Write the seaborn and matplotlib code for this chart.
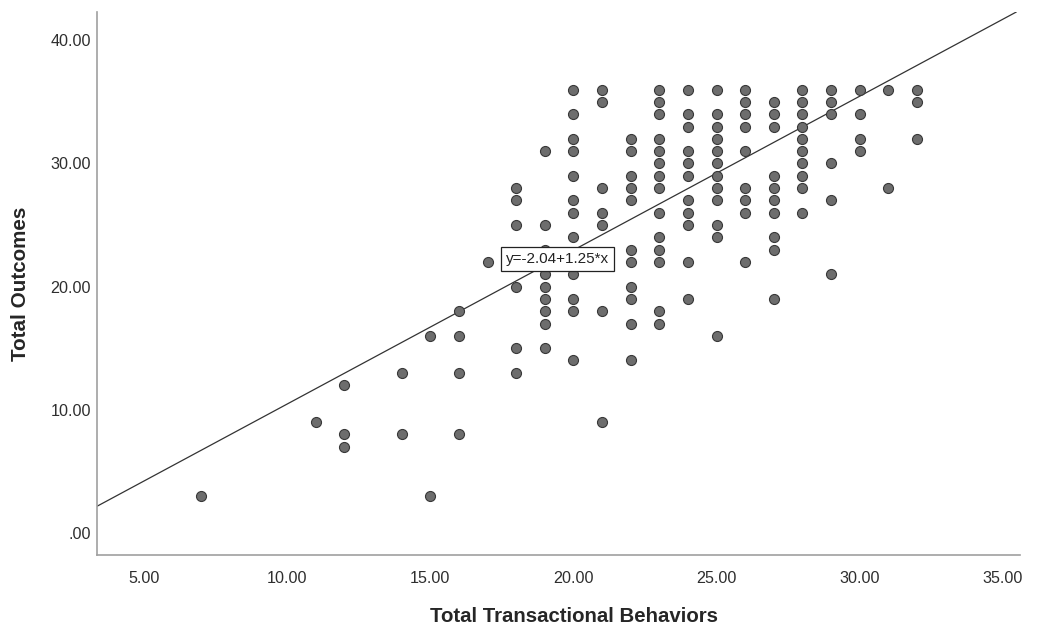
import matplotlib
matplotlib.use("Agg")
import matplotlib.pyplot as plt
from matplotlib.ticker import FuncFormatter, MultipleLocator
import pandas as pd
import seaborn as sns

# Total Transactional Behaviors (x) and Total Outcomes (y)
behaviors = [
    7,
    11,
    12, 12, 12,
    14, 14,
    15, 15,
    16, 16, 16, 16,
    17,
    18, 18, 18, 18, 18, 18,
    19, 19, 19, 19, 19, 19, 19, 19, 19,
    20, 20, 20, 20, 20, 20, 20, 20, 20, 20, 20, 20,
    21, 21, 21, 21, 21, 21, 21,
    22, 22, 22, 22, 22, 22, 22, 22, 22, 22, 22,
    23, 23, 23, 23, 23, 23, 23, 23, 23, 23, 23, 23, 23, 23,
    24, 24, 24, 24, 24, 24, 24, 24, 24, 24, 24,
    25, 25, 25, 25, 25, 25, 25, 25, 25, 25, 25, 25,
    26, 26, 26, 26, 26, 26, 26, 26, 26,
    27, 27, 27, 27, 27, 27, 27, 27, 27, 27,
    28, 28, 28, 28, 28, 28, 28, 28, 28, 28,
    29, 29, 29, 29, 29, 29,
    30, 30, 30, 30,
    31, 31,
    32, 32, 32,
]
outcomes = [
    3,
    9,
    12, 8, 7,
    13, 8,
    16, 3,
    18, 16, 13, 8,
    22,
    28, 27, 25, 20, 15, 13,
    31, 25, 23, 21, 20, 19, 18, 17, 15,
    36, 34, 32, 31, 29, 27, 26, 24, 21, 19, 18, 14,
    36, 35, 28, 26, 25, 18, 9,
    32, 31, 29, 28, 27, 23, 22, 20, 19, 17, 14,
    36, 35, 34, 32, 31, 30, 29, 28, 26, 24, 23, 22, 18, 17,
    36, 34, 33, 31, 30, 29, 27, 26, 25, 22, 19,
    36, 34, 33, 32, 31, 30, 29, 28, 27, 25, 24, 16,
    36, 35, 34, 33, 31, 28, 27, 26, 22,
    35, 34, 33, 29, 28, 27, 26, 24, 23, 19,
    36, 35, 34, 33, 32, 31, 30, 29, 28, 26,
    36, 35, 34, 30, 27, 21,
    36, 34, 32, 31,
    36, 28,
    36, 35, 32,
]

# fit line as printed on the chart
INTERCEPT = -2.04
SLOPE = 1.25
LABEL_X = 19.44


def spss_fmt(v, pos=None):
    s = f"{v:.2f}"
    if s.startswith("0."):
        s = s[1:]
    return s


def main() -> None:
    sns.set_style("white")
    plt.rcParams["font.family"] = ["Liberation Sans", "DejaVu Sans"]

    df = pd.DataFrame({"Total Transactional Behaviors": behaviors,
                       "Total Outcomes": outcomes})

    fig = plt.figure(figsize=(10.41, 6.28), dpi=100)
    ax = fig.add_axes([0.0932, 0.1162, 0.8866, 0.8647])

    sns.scatterplot(data=df, x="Total Transactional Behaviors", y="Total Outcomes",
                    ax=ax, s=52, color="#6d6d6d", edgecolor="#383838",
                    linewidth=0.8, zorder=3)

    ax.axline((0, INTERCEPT), slope=SLOPE, color="#333333", linewidth=0.9, zorder=2)
    ax.text(LABEL_X, INTERCEPT + SLOPE * LABEL_X, f"y={INTERCEPT:.2f}+{SLOPE:.2f}*x",
            ha="center", va="center", fontsize=11, color="#222222", zorder=5,
            bbox=dict(boxstyle="square,pad=0.32", fc="white", ec="#222222", lw=0.9))

    ax.set_xlim(3.36, 35.6)
    ax.set_ylim(-1.8, 42.3)
    ax.xaxis.set_major_locator(MultipleLocator(5))
    ax.yaxis.set_major_locator(MultipleLocator(10))
    ax.xaxis.set_major_formatter(FuncFormatter(spss_fmt))
    ax.yaxis.set_major_formatter(FuncFormatter(spss_fmt))
    ax.tick_params(axis="x", length=0, pad=11.5, labelsize=11.6, labelcolor="#2e2e2e")
    ax.tick_params(axis="y", length=0, pad=4.5, labelsize=11.6, labelcolor="#2e2e2e")

    for side in ["top", "right"]:
        ax.spines[side].set_visible(False)
    for side in ["left", "bottom"]:
        ax.spines[side].set_color("#a0a0a0")
        ax.spines[side].set_linewidth(1.2)

    ax.set_xlabel("Total Transactional Behaviors", fontsize=14.7, fontweight="bold")
    ax.set_ylabel("Total Outcomes", fontsize=14.9, fontweight="bold")
    ax.xaxis.label.set_va("center")
    ax.yaxis.label.set_va("center")
    ax.xaxis.set_label_coords(0.517, -0.114)
    ax.yaxis.set_label_coords(-0.083, 0.5)

    fig.savefig("out.png", dpi=100, facecolor="white")


if __name__ == "__main__":
    main()
